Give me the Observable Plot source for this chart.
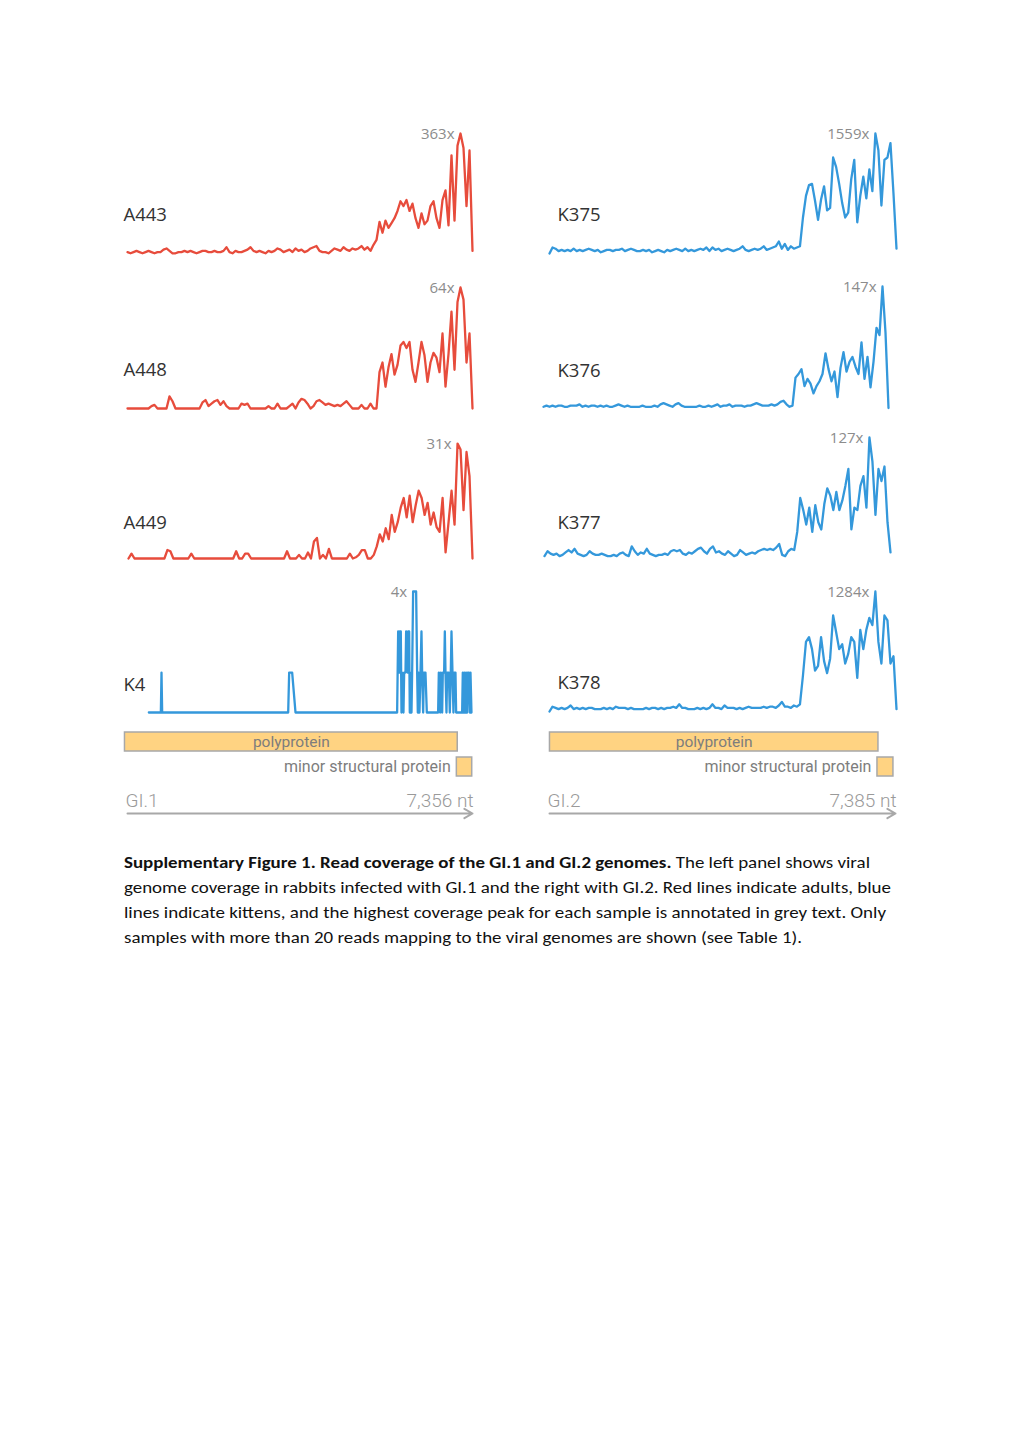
<!DOCTYPE html>
<html><head><meta charset="utf-8">
<script src="https://cdn.jsdelivr.net/npm/d3@7"></script>
<script src="https://cdn.jsdelivr.net/npm/@observablehq/plot@0.6"></script>
<style>
html,body{margin:0;padding:0;background:#fff;}
#page{position:relative;width:1020px;height:1442px;overflow:hidden;background:#fff;}
#page svg{overflow:visible;}
#caption{position:absolute;left:124px;top:850px;font-family:Carlito,Calibri,"Open Sans",sans-serif;font-size:16.5px;line-height:25px;color:#111;}
#caption .cl{white-space:nowrap;height:25px;}
#caption .cl span{display:inline-block;transform-origin:0 50%;}
</style></head>
<body><div id="page">
<div id="caption">
<div class="cl" data-w="746"><span><b>Supplementary Figure 1. Read coverage of the GI.1 and GI.2 genomes.</b> The left panel shows viral</span></div>
<div class="cl" data-w="767"><span>genome coverage in rabbits infected with GI.1 and the right with GI.2. Red lines indicate adults, blue</span></div>
<div class="cl" data-w="762"><span>lines indicate kittens, and the highest coverage peak for each sample is annotated in grey text. Only</span></div>
<div class="cl" data-w="678"><span>samples with more than 20 reads mapping to the viral genomes are shown (see Table 1).</span></div>
</div>
</div>
<script>
// ---------- DATA ----------
const samples   = ["A443", "A448", "A449", "K4", "K375", "K376", "K377", "K378"];
const genotypes = ["GI.1", "GI.1", "GI.1", "GI.1", "GI.2", "GI.2", "GI.2", "GI.2"];
const peakCoverage = [363, 64, 31, 4, 1559, 147, 127, 1284];
const ageGroup  = ["adult", "adult", "adult", "kitten", "kitten", "kitten", "kitten", "kitten"];
const genomeNames = ["GI.1", "GI.2"];
const genomeLength = [7356, 7385];
const genomeLabels = ["7,356 nt", "7,385 nt"];
const geneNames = ["polyprotein", "minor structural protein"];
const geneStartGI1 = [10, 7025];
const geneEndGI1   = [7044, 7350];
const geneStartGI2 = [10, 7000];
const geneEndGI2   = [7021, 7341];

// coverage, % of each sample's peak, in equal genome bins (116 bins)
const A443 = [2,1,2,3,2,1,2,3,2,1, 2,2,4,5,3,1,1,2,2,3, 2,3,2,1,2,3,3,2,2,3, 2,2,3,6,2,1,3,2,2,3,
  4,6,3,2,3,2,1,3,2,3, 5,4,2,3,4,2,5,3,4,2, 3,5,6,7,3,2,2,1,3,5, 4,3,6,4,3,5,4,5,7,4, 6,3,
  8,12,27,18,28,22,26,30,36,44, 40,45,36,42,30,22,34,25,28,40, 44,30,22,45,53,24,82,28,90,100, 88,40,86,3];
const A448 = [0,0,0,0,0,0,0,0,2,3, 0,0,0,0,10,6,0,0,0,0, 0,0,0,0,0,5,7,2,4,6, 7,3,6,2,0,0,0,0,4,3,
  4,0,0,0,0,0,0,2,0,0, 4,0,0,0,2,4,0,5,8,7, 4,0,2,6,7,5,3,4,3,2, 3,2,4,6,3,0,0,0,3,0, 0,4,0,0,
  30,38,18,34,45,28,36,52,55,50, 55,32,22,38,55,44,22,38,46,42, 30,62,18,45,80,32,88,100,90,38, 62,0];
const A449 = [0,4,0,0,0,0,0,0,0,0, 0,0,0,7,6,0,0,0,0,0, 0,4,0,0,0,0,0,0,0,0, 0,0,0,0,0,0,6,0,0,4,
  4,0,0,0,0,0,0,0,0,0, 0,0,0,6,0,0,0,3,0,0, 5,0,14,17,0,3,0,8,0,0, 0,0,0,0,4,0,1,3,7,7, 0,0,3,
  10,20,14,25,16,36,22,30,42,50, 34,52,30,44,56,50,36,46,28,38, 26,22,50,5,30,56,28,95,90,40, 88,68,0];
// K4: [genome position (nt), % of peak]
const K4 = [[455,0],[711,0],[725,33],[739,0],[3426,0],[3447,33],[3511,33],[3582,0],[5749,0],
  [5771,67],[5792,33],[5806,67],[5827,67],[5842,0],[5856,33],[5884,0],[5899,33],[5927,33],[5941,67],
  [5970,33],[5984,67],[6005,67],[6019,0],[6034,33],[6055,0],[6069,33],[6090,100],[6126,100],[6154,100],
  [6176,33],[6190,0],[6204,33],[6225,0],[6247,33],[6268,67],[6282,33],[6304,0],[6318,33],[6353,33],[6382,0],
  [6623,0],[6638,33],[6666,0],[6680,33],[6709,0],[6723,33],[6751,33],[6766,67],[6780,33],[6801,0],
  [6815,33],[6851,33],[6872,0],[6893,33],[6908,67],[6929,33],[6950,0],[6964,33],[6993,33],[7007,0],
  [7135,0],[7149,33],[7171,0],[7185,33],[7206,0],[7220,33],[7242,0],[7256,33],[7277,33],[7299,0],[7313,33],[7334,0]];
const K375 = [0,5,4,2,3,2,3,2,4,2, 3,2,3,4,3,2,3,1,2,3, 3,2,3,3,4,2,3,4,3,2, 2,3,2,3,1,2,3,2,1,3,
  2,3,4,3,2,4,2,3,2,3, 4,3,5,2,5,3,4,2,3,4, 3,2,3,4,6,3,2,3,4,3, 4,6,3,4,5,6,10,4,8,3, 6,4,5,6,
  30,48,57,58,44,28,45,56,36,38, 80,72,58,42,30,34,62,78,26,48, 64,46,70,52,100,86,40,78,80,92, 50,4];
const K376 = [1,2,1,2,1,2,2,1,1,2, 2,2,3,1,2,1,2,2,1,2, 1,2,1,1,2,3,2,1,2,1, 1,1,1,2,1,1,1,2,1,3,
  4,3,2,1,3,4,2,1,1,1, 1,1,2,1,1,2,1,2,3,1, 2,2,3,1,2,2,2,1,2,2, 3,4,3,2,2,2,3,2,3,5, 6,3,1,2,
  25,28,32,18,24,20,12,18,22,28, 45,32,22,30,9,33,46,30,38,42, 34,28,54,24,42,17,38,66,60,100, 62,0];
const K377 = [2,6,4,3,4,2,3,5,7,5, 8,4,3,2,3,6,4,3,3,4, 3,2,2,3,2,4,5,3,2,10, 6,3,5,4,8,4,3,2,3,3,
  4,3,6,7,6,7,4,3,5,4, 6,8,9,6,4,8,10,5,6,4, 3,6,4,2,3,7,5,3,4,5, 4,6,7,8,7,8,7,9,12,3, 2,6,8,7,
  22,50,40,28,42,22,44,30,24,45, 58,52,40,55,40,48,60,74,24,42, 40,60,68,42,100,80,36,74,64,76, 30,5];
const K378 = [0,4,3,2,3,2,3,5,2,3, 2,3,2,3,3,2,2,2,3,2, 3,2,4,3,3,3,2,3,2,2, 2,2,3,2,3,3,2,3,2,3,
  3,4,3,6,3,3,2,2,2,3, 2,3,2,3,6,3,3,2,5,3, 3,3,2,3,2,3,4,3,3,3, 3,4,3,4,4,3,5,8,4,4, 3,5,4,6,
  30,58,62,52,34,38,62,42,32,44, 80,66,52,56,40,48,62,58,28,68, 52,68,78,72,100,58,40,80,76,40, 46,2];

// ---------- LAYOUT (page pixels) ----------
const panelLayout = {
  A443: {x0:127, x1:472, top:133, zero:254,   labelX:123, labelDy:-34},
  A448: {x0:127, x1:472, top:287, zero:408,   labelX:123, labelDy:-33},
  A449: {x0:128, x1:472, top:437, zero:558,   labelX:123, labelDy:-30},
  K4:   {x0:127, x1:472, top:591, zero:712,   labelX:123, labelDy:-22},
  K375: {x0:549, x1:896, top:133, zero:253,   labelX:557, labelDy:-33},
  K376: {x0:543, x1:888, top:286, zero:407.5, labelX:557, labelDy:-31.5},
  K377: {x0:544, x1:890, top:437, zero:558,   labelX:557, labelDy:-30},
  K378: {x0:549, x1:896, top:591, zero:711,   labelX:557, labelDy:-23}
};
const geneLayout = [{x0:124, x1:472}, {x0:549, x1:895}];
const axisLayout = [{x0:127, x1:472}, {x0:549, x1:895}];
const colors = {adult:"#e74c3c", kitten:"#3498db"};
const FONT = "'Open Sans', 'Noto Sans', sans-serif";
const GENEFONT = "Roboto, 'Noto Sans', sans-serif";

const page = document.getElementById("page");
const binned = {A443, A448, A449, K375, K376, K377, K378};

function place(svg, top) {
  svg.style.position = "absolute";
  svg.style.left = "0px";
  svg.style.top = top + "px";
  page.appendChild(svg);
}

samples.forEach((name, i) => {
  const g = genomeNames.indexOf(genotypes[i]);
  const len = genomeLength[g];
  let data;
  if (name === "K4") data = K4.map(([pos, pct]) => ({pos, pct}));
  else {
    const vals = binned[name];
    const step = len / (vals.length - 1);
    data = vals.map((v, j) => ({pos: j * step, pct: v}));
  }
  const L = panelLayout[name];
  const mT = 24, mB = 12;
  const plot = Plot.plot({
    width: 1020, height: L.zero - L.top + mT + mB,
    marginLeft: L.x0, marginRight: 1020 - L.x1, marginTop: mT, marginBottom: mB,
    x: {domain: [0, len], axis: null},
    y: {domain: [0, 100], axis: null},
    style: {fontFamily: FONT, background: "transparent", overflow: "visible"},
    marks: [
      Plot.line(data, {x: "pos", y: "pct", stroke: colors[ageGroup[i]], strokeWidth: 2.3, strokeLinejoin: "round"}),
      Plot.text(data, Plot.selectMaxY({x: "pos", y: "pct", text: () => peakCoverage[i] + "x",
        textAnchor: "end", dx: -6, dy: 1, fill: "#8c8c8c", fontSize: 15, fontFamily: FONT})),
      Plot.text([name], {text: d => d, frameAnchor: "bottom-left", dx: L.labelX - L.x0, dy: L.labelDy,
        textAnchor: "start", fill: "#333", fontSize: 18.5, fontFamily: FONT})
    ]
  });
  place(plot, L.top - mT);
});

[0, 1].forEach(g => {
  const starts = g === 0 ? geneStartGI1 : geneStartGI2;
  const ends = g === 0 ? geneEndGI1 : geneEndGI2;
  const genes = geneNames.map((n, k) => ({name: n, start: starts[k], end: ends[k]}));
  const len = genomeLength[g];
  const GL = geneLayout[g];
  const gp = Plot.plot({
    width: 1020, height: 60,
    marginLeft: GL.x0, marginRight: 1020 - GL.x1, marginTop: 6, marginBottom: 8,
    x: {domain: [0, len], axis: null},
    y: {domain: geneNames, axis: null, paddingInner: 0.23, paddingOuter: 0},
    style: {fontFamily: GENEFONT, background: "transparent", overflow: "visible"},
    marks: [
      Plot.barX(genes, {x1: "start", x2: "end", y: "name", fill: "#ffd382", stroke: "#a8a8a8", strokeWidth: 1.5}),
      Plot.text(genes.slice(0, 1), {x: d => (d.start + d.end) / 2, y: "name", text: "name",
        fill: "#7d7d7d", fontSize: 15.5, fontFamily: GENEFONT}),
      Plot.text(genes.slice(1), {x: "start", y: "name", text: "name", textAnchor: "end", dx: -6,
        fill: "#7d7d7d", fontSize: 16, fontFamily: GENEFONT})
    ]
  });
  place(gp, 725);

  const AL = axisLayout[g];
  const ap = Plot.plot({
    width: 1020, height: 30,
    marginLeft: AL.x0, marginRight: 1020 - AL.x1, marginTop: 5, marginBottom: 5,
    x: {domain: [0, len], axis: null},
    y: {domain: [0, 1], axis: null},
    style: {fontFamily: GENEFONT, background: "transparent", overflow: "visible"},
    marks: [
      Plot.arrow([0], {x1: 0, x2: len, y1: 0, y2: 0, stroke: "#a8a8a8", strokeWidth: 2, headLength: 7, bend: 0}),
      Plot.text([genomeNames[g]], {text: d => d, frameAnchor: "left", textAnchor: "start", dx: -2, dy: -3,
        fill: "#9a9a9a", fontSize: 19, fontWeight: 300, fontFamily: GENEFONT}),
      Plot.text([genomeLabels[g]], {text: d => d, frameAnchor: "right", textAnchor: "end", dx: 1, dy: -3,
        fill: "#9a9a9a", fontSize: 19, fontWeight: 300, fontFamily: GENEFONT})
    ]
  });
  place(ap, 788);
});

function fitCaption() {
  document.querySelectorAll("#caption .cl").forEach(div => {
    const span = div.querySelector("span");
    span.style.transform = "none";
    const w = span.getBoundingClientRect().width;
    const target = +div.dataset.w;
    if (w > 0) span.style.transform = `scaleX(${target / w})`;
  });
}
fitCaption();
if (document.fonts && document.fonts.ready) document.fonts.ready.then(fitCaption);
</script>
</body></html>
